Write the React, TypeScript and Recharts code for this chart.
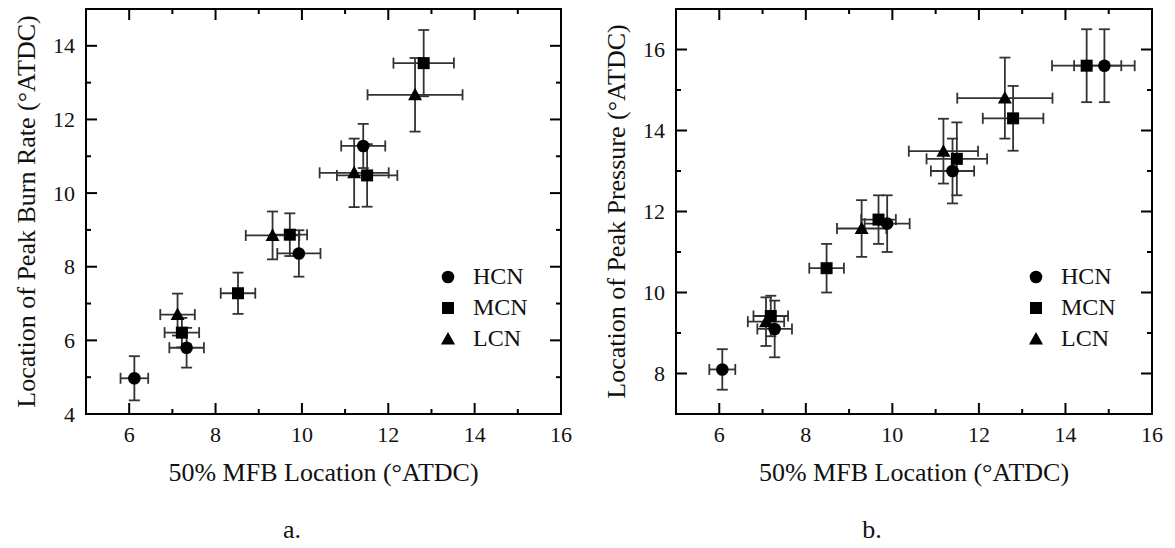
import React from "react";
import { ScatterChart, Scatter, XAxis, YAxis, ErrorBar, ReferenceArea, Legend, Label } from "recharts";

type Pt = { x: number; y: number; ex: number; ey: number };

const FONT = "'Liberation Serif', 'Times New Roman', serif";
const SERIES_NAMES = ["HCN", "MCN", "LCN"];
const SERIES_SHAPES = ["circle", "square", "triangle"];
const X_TICKS = [5, 6, 7, 8, 9, 10, 11, 12, 13, 14, 15, 16];
const BURN_Y_TICKS = [4, 5, 6, 7, 8, 9, 10, 11, 12, 13, 14, 15];
const PRESSURE_Y_TICKS = [7, 8, 9, 10, 11, 12, 13, 14, 15, 16, 17];
const X_TITLE = "50% MFB Location (°ATDC)";

// a. location of peak burn rate
const burnHCN: Pt[] = [
  { x: 6.12, y: 4.97, ex: 0.32, ey: 0.6 },
  { x: 7.33, y: 5.8, ex: 0.4, ey: 0.54 },
  { x: 9.93, y: 8.36, ex: 0.5, ey: 0.63 },
  { x: 11.42, y: 11.28, ex: 0.51, ey: 0.6 },
];
const burnMCN: Pt[] = [
  { x: 7.22, y: 6.21, ex: 0.4, ey: 0.4 },
  { x: 8.52, y: 7.28, ex: 0.4, ey: 0.56 },
  { x: 9.72, y: 8.87, ex: 0.4, ey: 0.58 },
  { x: 11.51, y: 10.48, ex: 0.7, ey: 0.85 },
  { x: 12.82, y: 13.53, ex: 0.7, ey: 0.9 },
];
const burnLCN: Pt[] = [
  { x: 7.12, y: 6.7, ex: 0.4, ey: 0.57 },
  { x: 9.32, y: 8.85, ex: 0.62, ey: 0.65 },
  { x: 11.21, y: 10.55, ex: 0.8, ey: 0.93 },
  { x: 12.62, y: 12.67, ex: 1.1, ey: 1.0 },
];

// b. location of peak pressure
const pressHCN: Pt[] = [
  { x: 6.07, y: 8.1, ex: 0.3, ey: 0.5 },
  { x: 7.28, y: 9.1, ex: 0.4, ey: 0.7 },
  { x: 9.88, y: 11.7, ex: 0.52, ey: 0.7 },
  { x: 11.39, y: 13.0, ex: 0.5, ey: 0.8 },
  { x: 14.9, y: 15.6, ex: 0.7, ey: 0.9 },
];
const pressMCN: Pt[] = [
  { x: 7.19, y: 9.42, ex: 0.4, ey: 0.5 },
  { x: 8.48, y: 10.6, ex: 0.4, ey: 0.6 },
  { x: 9.68, y: 11.8, ex: 0.4, ey: 0.6 },
  { x: 11.49, y: 13.3, ex: 0.7, ey: 0.9 },
  { x: 12.79, y: 14.3, ex: 0.7, ey: 0.8 },
  { x: 14.49, y: 15.6, ex: 0.8, ey: 0.9 },
];
const pressLCN: Pt[] = [
  { x: 7.08, y: 9.28, ex: 0.42, ey: 0.6 },
  { x: 9.29, y: 11.58, ex: 0.57, ey: 0.7 },
  { x: 11.18, y: 13.49, ex: 0.8, ey: 0.8 },
  { x: 12.6, y: 14.8, ex: 1.1, ey: 1.0 },
];

const H = 548;
const PLOT_TOP = 9;
const PLOT_BOTTOM = 414;

function Marker({ type, cx, cy }: { type: string; cx: number; cy: number }) {
  if (type === "circle") return <circle cx={cx} cy={cy} r={6.3} fill="#000" />;
  if (type === "square") return <rect x={cx - 6} y={cy - 6} width={12} height={12} fill="#000" />;
  return <path d={`M${cx},${cy - 7}L${cx + 7},${cy + 5.5}L${cx - 7},${cy + 5.5}Z`} fill="#000" />;
}

function LegendContent({ payload }: any) {
  const items = [...(payload ?? [])].sort(
    (a: any, b: any) => SERIES_NAMES.indexOf(a.value) - SERIES_NAMES.indexOf(b.value)
  );
  return (
    <div style={{ fontFamily: FONT, fontSize: 24, color: "#111" }}>
      {items.map((e: any) => (
        <div key={e.value} style={{ display: "flex", alignItems: "center", height: 31 }}>
          <svg width={16} height={16}>
            <Marker type={SERIES_SHAPES[SERIES_NAMES.indexOf(e.value)]} cx={8} cy={8} />
          </svg>
          <span style={{ marginLeft: 17, lineHeight: "31px" }}>{e.value}</span>
        </div>
      ))}
    </div>
  );
}

type PanelProps = {
  left: number;
  width: number;
  axisW: number;
  marginRight: number;
  yDomain: [number, number];
  yTicks: number[];
  yTitle: string;
  data: Pt[][];
  caption: string;
  captionX: number;
  legendLeft: number;
};

function Panel(p: PanelProps) {
  const right = p.width - p.marginRight;
  const XTick = (t: any) => {
    const major = t.payload.value % 2 === 0;
    const len = major ? 11 : 5;
    return (
      <g>
        <line x1={t.x} x2={t.x} y1={t.y} y2={t.y - len} stroke="#000" strokeWidth={2} />
        <line x1={t.x} x2={t.x} y1={PLOT_TOP} y2={PLOT_TOP + len} stroke="#000" strokeWidth={2} />
        {major && (
          <text x={t.x} y={t.y + 28} textAnchor="middle" fontFamily={FONT} fontSize={22} fill="#111">
            {t.payload.value}
          </text>
        )}
      </g>
    );
  };
  const YTick = (t: any) => {
    const major = t.payload.value % 2 === 0;
    const len = major ? 11 : 5;
    return (
      <g>
        <line x1={t.x} x2={t.x + len} y1={t.y} y2={t.y} stroke="#000" strokeWidth={2} />
        <line x1={right} x2={right - len} y1={t.y} y2={t.y} stroke="#000" strokeWidth={2} />
        {major && (
          <text x={t.x - 11} y={t.y + 7.5} textAnchor="end" fontFamily={FONT} fontSize={22} fill="#111">
            {t.payload.value}
          </text>
        )}
      </g>
    );
  };
  const cx = (p.axisW + right) / 2;
  const cy = (PLOT_TOP + PLOT_BOTTOM) / 2;
  const ty = p.axisW - 51;
  return (
    <div style={{ position: "absolute", left: p.left, top: 0 }}>
      <ScatterChart width={p.width} height={H} margin={{ top: PLOT_TOP, right: p.marginRight, bottom: 0, left: 0 }}>
        <XAxis
          type="number" dataKey="x" domain={[5, 16]} ticks={X_TICKS} interval={0} allowDataOverflow
          axisLine={false} tickLine={false} tickSize={0} tickMargin={0} height={H - PLOT_BOTTOM} tick={XTick}
        >
          <Label
            content={() => (
              <g fontFamily={FONT} fill="#111">
                <text x={cx} y={481} textAnchor="middle" fontSize={26}>{X_TITLE}</text>
                <text x={p.captionX} y={538} textAnchor="middle" fontSize={26}>{p.caption}</text>
              </g>
            )}
          />
        </XAxis>
        <YAxis
          type="number" dataKey="y" domain={p.yDomain} ticks={p.yTicks} interval={0} allowDataOverflow
          axisLine={false} tickLine={false} tickSize={0} tickMargin={0} width={p.axisW} tick={YTick}
        >
          <Label
            content={() => (
              <text x={ty} y={cy} transform={`rotate(-90 ${ty} ${cy})`} textAnchor="middle" fontFamily={FONT} fontSize={26} fill="#111">
                {p.yTitle}
              </text>
            )}
          />
        </YAxis>
        <ReferenceArea x1={5} x2={16} y1={p.yDomain[0]} y2={p.yDomain[1]} fill="none" stroke="#000" strokeWidth={2} />
        {p.data.map((d, i) => (
          <Scatter
            key={SERIES_NAMES[i]} name={SERIES_NAMES[i]} data={d} isAnimationActive={false}
            shape={(s: any) => <Marker type={SERIES_SHAPES[i]} cx={s.cx} cy={s.cy} />}
          >
            <ErrorBar dataKey="ex" direction="x" width={5.5} stroke="#333" strokeWidth={1.8} isAnimationActive={false} />
            <ErrorBar dataKey="ey" direction="y" width={5.5} stroke="#333" strokeWidth={1.8} isAnimationActive={false} />
          </Scatter>
        ))}
        <Legend
          layout="vertical" align="center" verticalAlign="middle" content={LegendContent}
          wrapperStyle={{ left: p.legendLeft, top: 261, width: 120 }}
        />
      </ScatterChart>
    </div>
  );
}

export default function App() {
  return (
    <div style={{ position: "absolute", left: 0, top: 0, width: 1175, height: H, background: "#fff" }}>
      <Panel
        left={0} width={580} axisW={86} marginRight={19} yDomain={[4, 15]} yTicks={BURN_Y_TICKS}
        yTitle="Location of Peak Burn Rate (°ATDC)" data={[burnHCN, burnMCN, burnLCN]}
        caption="a." captionX={292} legendLeft={440}
      />
      <Panel
        left={580} width={595} axisW={96} marginRight={23} yDomain={[7, 17]} yTicks={PRESSURE_Y_TICKS}
        yTitle="Location of Peak Pressure (°ATDC)" data={[pressHCN, pressMCN, pressLCN]}
        caption="b." captionX={292} legendLeft={448}
      />
    </div>
  );
}
